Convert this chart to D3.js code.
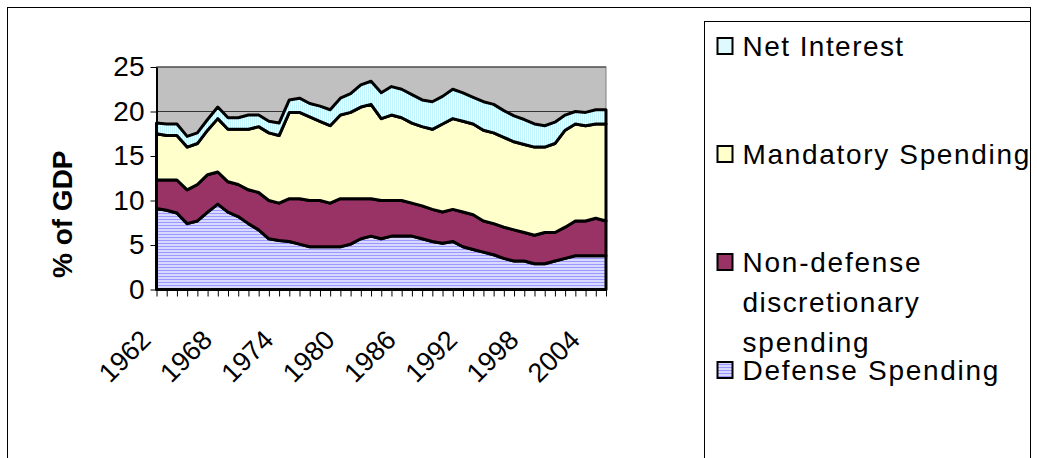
<!DOCTYPE html>
<html>
<head>
<meta charset="utf-8">
<script src="https://cdn.jsdelivr.net/npm/d3@7"></script>
<style>
  html, body { margin: 0; padding: 0; background: #fff; }
  svg { display: block; font-family: "Liberation Sans", Arial, sans-serif; }
</style>
</head>
<body>
<svg class="chart" width="1037" height="458"></svg>
<script>
// fiscal years on the category axis
const years = [1962, 1963, 1964, 1965, 1966, 1967, 1968, 1969, 1970, 1971, 1972,
    1973, 1974, 1975, 1976, 1977, 1978, 1979, 1980, 1981, 1982, 1983, 1984,
    1985, 1986, 1987, 1988, 1989, 1990, 1991, 1992, 1993, 1994, 1995, 1996,
    1997, 1998, 1999, 2000, 2001, 2002, 2003, 2004, 2005, 2006];
const yearLabels = [1962, 1968, 1974, 1980, 1986, 1992, 1998, 2004];
const yTicks = [0, 5, 10, 15, 20, 25];

// % of GDP
const defense = [9.1, 8.9, 8.6, 7.4, 7.7, 8.7, 9.6, 8.7, 8.2, 7.4, 6.7, 5.7, 5.5,
    5.4, 5.1, 4.8, 4.8, 4.8, 4.8, 5.1, 5.7, 6.0, 5.7, 6.0, 6.0, 6.0, 5.7, 5.4, 5.2,
    5.4, 4.8, 4.5, 4.2, 3.9, 3.5, 3.2, 3.2, 2.9, 2.9, 3.2, 3.5, 3.8, 3.8, 3.8, 3.8];
const nonDefense = [3.2, 3.4, 3.7, 3.8, 4.1, 4.2, 3.6, 3.4, 3.6, 3.8, 4.2, 4.3, 4.2,
    4.8, 5.1, 5.2, 5.2, 4.9, 5.4, 5.1, 4.5, 4.2, 4.3, 4.0, 4.0, 3.7, 3.7, 3.6, 3.5,
    3.6, 3.9, 3.9, 3.5, 3.5, 3.5, 3.5, 3.2, 3.2, 3.5, 3.2, 3.5, 3.9, 3.9, 4.2, 3.9];
const mandatory = [5.2, 5.0, 5.0, 4.8, 4.6, 5.0, 6.0, 5.9, 6.2, 6.8, 7.4, 7.6, 7.6,
    9.7, 9.7, 9.4, 8.9, 8.7, 9.4, 9.7, 10.3, 10.6, 9.2, 9.6, 9.3, 9.0, 8.9, 9.0, 9.9,
    10.2, 10.2, 10.2, 10.2, 10.2, 10.1, 9.9, 9.9, 9.9, 9.6, 10.0, 10.9, 10.9, 10.7, 10.6, 10.9];
const interest = [1.2, 1.3, 1.3, 1.2, 1.2, 1.2, 1.3, 1.3, 1.3, 1.6, 1.3, 1.3, 1.4,
    1.4, 1.6, 1.5, 1.7, 1.8, 1.9, 2.1, 2.5, 2.6, 2.9, 3.2, 3.2, 3.2, 3.0, 3.1, 3.1,
    3.3, 3.2, 3.0, 3.2, 3.2, 3.0, 2.9, 2.8, 2.6, 2.4, 2.4, 1.7, 1.4, 1.5, 1.6, 1.6];

const keys = ['defense', 'nonDefense', 'mandatory', 'interest'];
const rows = years.map((yr, i) => ({
    year: yr, defense: defense[i], nonDefense: nonDefense[i],
    mandatory: mandatory[i], interest: interest[i]
}));

const plot = {left: 156.5, right: 606, top: 67, bottom: 289.5};
const font = 28;

const svg = d3.select('.chart');

// fill patterns
const defs = svg.append('defs');
const pInt = defs.append('pattern').attr('id', 'pat-int')
    .attr('patternUnits', 'userSpaceOnUse').attr('width', 2).attr('height', 2);
pInt.append('rect').attr('width', 2).attr('height', 2).attr('fill', '#ffffff');
pInt.append('rect').attr('width', 1).attr('height', 2).attr('fill', '#bff5ff');
const pDef = defs.append('pattern').attr('id', 'pat-def')
    .attr('patternUnits', 'userSpaceOnUse').attr('width', 3).attr('height', 3);
pDef.append('rect').attr('width', 3).attr('height', 3).attr('fill', '#d9d9ff');
pDef.append('rect').attr('width', 3).attr('height', 1).attr('fill', '#9999ff');

const fills = {
    interest: 'url(#pat-int)', mandatory: '#ffffcc',
    nonDefense: '#993366', defense: 'url(#pat-def)'
};

// chart frame
svg.append('rect').attr('x', 7.5).attr('y', 7.5).attr('width', 1023).attr('height', 470)
    .attr('fill', 'none').attr('stroke', '#000');

const xScale = d3.scalePoint().domain(years).range([plot.left, plot.right]);
const yScale = d3.scaleLinear().domain([0, 25]).range([plot.bottom, plot.top]);

// plot area
svg.append('rect')
    .attr('x', plot.left).attr('y', plot.top)
    .attr('width', plot.right - plot.left).attr('height', plot.bottom - plot.top)
    .attr('fill', '#c0c0c0').attr('stroke', '#808080');

svg.append('g').selectAll('line')
    .data(yTicks.filter(t => t > 0))
    .enter().append('line')
    .attr('x1', plot.left).attr('x2', plot.right)
    .attr('y1', d => yScale(d)).attr('y2', d => yScale(d))
    .attr('stroke', '#333').attr('stroke-width', 1);

const series = d3.stack().keys(keys)(rows);
const area = d3.area()
    .x(d => xScale(d.data.year))
    .y0(d => yScale(d[0]))
    .y1(d => yScale(d[1]));

svg.append('g').selectAll('path')
    .data(series)
    .enter().append('path')
    .attr('d', area)
    .attr('fill', d => fills[d.key])
    .attr('stroke', '#000')
    .attr('stroke-width', 3)
    .attr('stroke-linejoin', 'round');

// axes
const yAxis = svg.append('g')
    .attr('transform', `translate(${plot.left}, 0)`)
    .call(d3.axisLeft(yScale).tickValues(yTicks).tickSize(6).tickPadding(6).tickSizeOuter(0));
yAxis.select('.domain').attr('stroke-width', 2);
yAxis.selectAll('text').attr('font-size', font).attr('font-family', null).attr('fill', '#000');

const xAxis = svg.append('g')
    .attr('transform', `translate(0, ${plot.bottom})`)
    .call(d3.axisBottom(xScale).tickSize(7).tickFormat('').tickSizeOuter(0));
xAxis.select('.domain').attr('stroke-width', 2);

svg.append('g').selectAll('text')
    .data(yearLabels)
    .enter().append('text')
    .attr('transform', d => `translate(${xScale(d) - 4}, ${plot.bottom + 52}) rotate(-45)`)
    .attr('text-anchor', 'end')
    .attr('font-size', font - 1)
    .text(d => d);

svg.append('text')
    .attr('transform', `translate(72, ${(plot.top + plot.bottom) / 2 + 36}) rotate(-90)`)
    .attr('text-anchor', 'middle')
    .attr('font-size', font)
    .attr('font-weight', 'bold')
    .text('% of GDP');

// legend
const legendX = 704.5;
svg.append('rect').attr('x', legendX).attr('y', 21.5).attr('width', 326).attr('height', 460)
    .attr('fill', '#fff').attr('stroke', '#000');

const legendItems = [
    {key: 'interest', lines: ['Net Interest']},
    {key: 'mandatory', lines: ['Mandatory Spending']},
    {key: 'nonDefense', lines: ['Non-defense', 'discretionary', 'spending']},
    {key: 'defense', lines: ['Defense Spending']}
];
const legend = svg.append('g').selectAll('g')
    .data(legendItems)
    .enter().append('g')
    .attr('transform', (d, i) => `translate(${legendX + 13}, ${46 + i * 108})`);
legend.append('rect')
    .attr('x', 0).attr('y', -8).attr('width', 15).attr('height', 16)
    .attr('fill', d => fills[d.key]).attr('stroke', '#000').attr('stroke-width', 2);
const lines = legend.append('g').selectAll('text')
    .data(d => d.lines)
    .enter().append('text')
    .attr('x', 25).attr('y', (d, i) => 10 + i * 40)
    .attr('font-size', font)
    .text(d => d);
// Excel spreads the legend letters a little wider than normal
lines.each(function () {
    const w = this.getComputedTextLength();
    d3.select(this).attr('textLength', w * 1.11).attr('lengthAdjust', 'spacing');
});
</script>
</body>
</html>
